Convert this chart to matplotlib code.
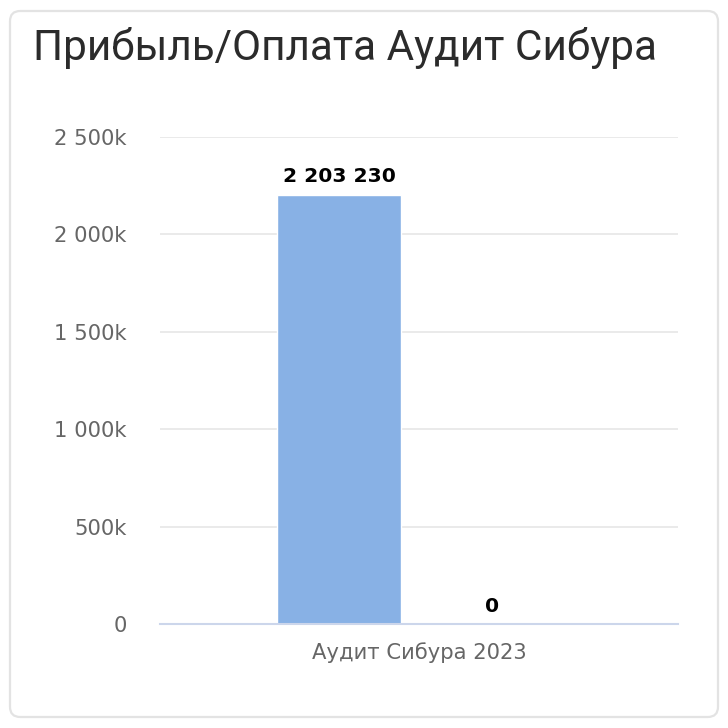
import matplotlib
matplotlib.use("Agg")
import matplotlib.pyplot as plt
from matplotlib.patches import FancyBboxPatch
import numpy as np

title = "Прибыль/Оплата Аудит Сибура"
categories = ["Аудит Сибура 2023"]
series_profit = [2203230]
series_payment = [0]
y_ticks = [0, 500000, 1000000, 1500000, 2000000, 2500000]
y_tick_labels = ["0", "500k", "1 000k", "1 500k", "2 000k", "2 500k"]
data_labels = ["2 203 230", "0"]

W = H = 728
fig = plt.figure(figsize=(W / 100, H / 100), dpi=100)
fig.patch.set_facecolor("white")

# card
card = FancyBboxPatch((10 / W, 11 / H), 708 / W, 706 / H,
                      boxstyle="round,pad=0,rounding_size=0.014",
                      transform=fig.transFigure, facecolor="white",
                      edgecolor="#e3e3e3", linewidth=1.6, zorder=-10)
fig.patches.append(card)

fig.text(33 / W, 1 - 48 / H, title, fontsize=30.4, color="#2b2b2b",
         family="Roboto", fontweight="normal", va="center", ha="left")

ax = fig.add_axes([160 / W, 104 / H, 518 / W, 487 / H])
ax.set_facecolor("none")
x = np.arange(len(categories))
w = 0.239
off_left = 0.154
off_right = 0.142
ax.bar(x - off_left, series_profit, width=w, color="#88b1e5", edgecolor="white", linewidth=1, zorder=3)
ax.bar(x + off_right, series_payment, width=w, color="#88b1e5", edgecolor="white", linewidth=1, zorder=3)

ax.set_xlim(-0.5, 0.5)
ax.set_ylim(0, 2500000)
ax.set_yticks(y_ticks)
ax.set_yticklabels(y_tick_labels)
ax.set_xticks(x)
ax.set_xticklabels(categories)
ax.grid(axis="y", color="#e6e6e6", linewidth=1.2, zorder=0)
ax.set_axisbelow(True)
for s in ["top", "right", "left"]:
    ax.spines[s].set_visible(False)
ax.spines["bottom"].set_color("#ccd6eb")
ax.spines["bottom"].set_linewidth(1.5)
ax.spines["bottom"].set_zorder(4)
ax.tick_params(axis="y", length=0, pad=24, labelsize=15.2, labelcolor="#666666")
ax.tick_params(axis="x", length=0, pad=13, labelsize=15.2, labelcolor="#666666")
for lbl in ax.get_yticklabels() + ax.get_xticklabels():
    lbl.set_family("DejaVu Sans")

vals = [series_profit[0], series_payment[0]]
xs = [x[0] - off_left, x[0] + off_right]
for xi, v, t in zip(xs, vals, data_labels):
    ax.annotate(t, (xi, v), xytext=(0, 6), textcoords="offset points",
                ha="center", va="bottom", fontsize=14.6, fontweight="bold",
                color="black", zorder=5)

fig.savefig("out.png", dpi=100, facecolor="white")
